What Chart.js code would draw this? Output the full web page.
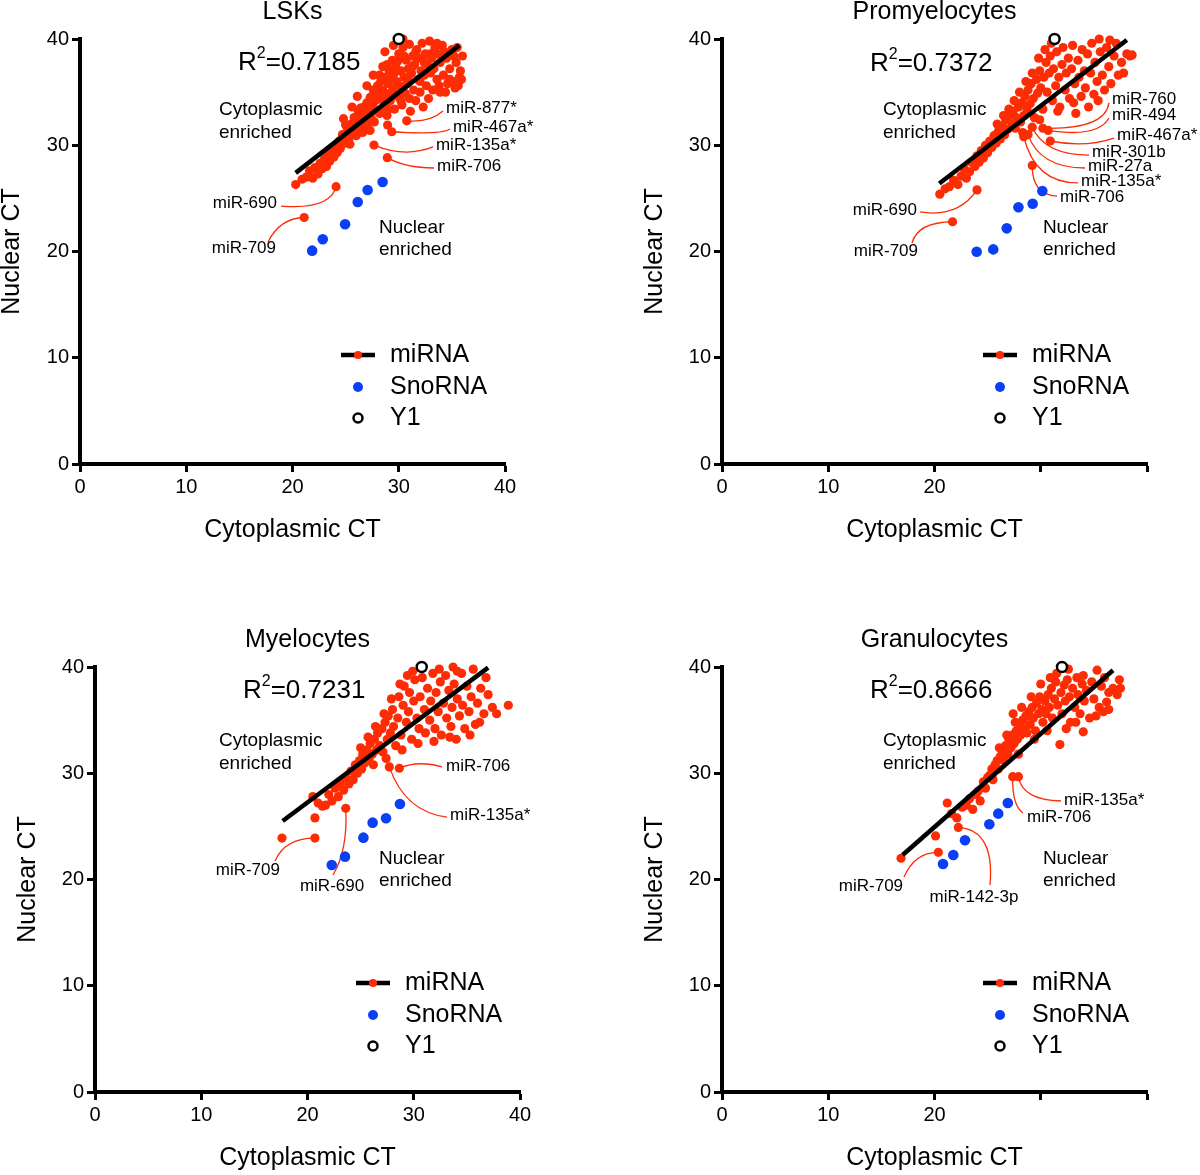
<!DOCTYPE html>
<html>
<head>
<meta charset="utf-8">
<script src="https://cdn.jsdelivr.net/npm/chart.js@4.4.1/dist/chart.umd.min.js"></script>
<style>
  body { margin: 0; background: #fff; width: 1200px; height: 1175px; position: relative; overflow: hidden; }
  canvas { position: absolute; }
</style>
</head>
<body>
<canvas id="lsk" width="600" height="587" style="left:0;top:0"></canvas>
<canvas id="prom" width="600" height="587" style="left:600px;top:0"></canvas>
<canvas id="myel" width="600" height="588" style="left:0;top:587px"></canvas>
<canvas id="gran" width="600" height="588" style="left:600px;top:587px"></canvas>
<script>
// axis ticks
const xTicks = [0, 10, 20, 30, 40];
const yTicks = [0, 10, 20, 30, 40];

// ---- LSKs ----
const lskMiRNA = [
  [20.3,26.3],[20.9,26.8],[21.3,27.0],[21.6,27.6],[21.9,26.9],[22.1,27.9],[22.4,27.3],[22.6,28.3],[22.8,27.8],[23.0,28.7],
  [23.2,28.0],[23.3,29.2],[23.5,28.5],[23.7,29.6],[23.9,28.9],[24.0,30.0],[24.2,29.3],[24.4,30.4],[24.5,29.7],[24.7,31.0],
  [24.9,30.2],[25.0,30.8],[25.2,31.5],[25.3,30.5],[25.5,32.0],[25.6,31.0],[25.8,32.6],[25.9,31.4],[26.0,30.9],[26.1,32.2],
  [26.2,33.2],[26.3,31.8],[26.5,32.8],[26.6,31.2],[26.7,33.6],[26.8,32.4],[27.0,34.0],[27.0,31.9],[27.2,33.0],[27.3,34.5],
  [27.4,32.6],[27.5,33.8],[27.6,35.2],[27.7,32.2],[27.8,34.2],[27.9,33.3],[28.0,35.6],[28.1,34.8],[28.2,33.0],[28.3,36.0],
  [28.4,34.4],[28.5,35.2],[28.6,33.6],[28.7,36.4],[28.8,34.8],[28.9,32.8],[29.0,35.8],[29.1,37.0],[29.2,34.2],[29.3,36.2],
  [29.4,38.0],[29.5,35.3],[29.6,33.4],[29.7,37.4],[29.8,36.0],[29.9,34.6],[30.0,38.6],[30.1,35.6],[30.2,37.0],[30.3,33.8],
  [30.4,39.2],[30.5,36.4],[30.6,34.9],[30.7,38.0],[30.8,35.8],[30.9,37.2],[31.0,39.5],[31.1,33.2],[31.2,36.8],[31.3,38.4],
  [31.4,35.2],[31.5,37.6],[31.6,34.2],[31.7,39.0],[31.8,36.2],[31.9,38.2],[32.0,35.0],[32.1,37.0],[32.2,39.6],[32.3,33.6],
  [32.4,36.6],[32.5,38.6],[32.6,35.6],[32.7,37.6],[32.8,34.4],[32.9,39.8],[33.0,36.8],[33.1,38.2],[33.2,35.2],[33.3,37.2],
  [33.4,39.2],[33.6,36.2],[33.7,38.6],[33.8,35.6],[33.9,37.8],[34.1,39.4],[34.2,36.6],[34.4,35.0],
  [34.5,38.2],[34.6,35.8],[34.8,37.2],[35.0,39.0],[35.1,36.0],[35.3,35.4],[35.4,37.8],[35.6,35.6],[35.8,37.0],
  [35.9,36.2],[36.0,38.4],[35.7,36.4],[25.0,31.9],[25.4,30.1],[26.4,33.5],[26.9,31.5],[27.1,33.4],
  [27.5,34.6],[27.9,35.0],[28.2,36.6],[28.6,34.0],[28.9,37.6],[29.3,35.0],[29.6,36.8],[29.9,37.9],[30.2,34.2],[30.5,38.4],
  [30.9,36.4],[31.3,37.4],[31.6,38.8],[32.0,36.0],[32.4,37.8],[33.0,38.6],[33.6,39.6],[34.3,38.8],[35.2,38.4],[35.5,39.2],
  [34.8,36.2],[33.9,35.0],[31.0,34.4],[29.0,33.4],[27.3,31.4],[24.8,32.5],[25.6,33.6],[26.1,34.6],[27.0,35.6],[27.6,36.6],
  [28.5,37.4],[28.7,38.8],[29.5,39.4],[30.4,40.0],
  [30.75,32.3],[29.34,31.27],[28.95,31.9],[27.67,30.02],[28.92,28.83],[24.1,26.1],[21.1,23.2]
];
const lskSnoRNA = [[21.85,20.08],[22.85,21.15],[24.95,22.56],[26.14,24.66],[27.07,25.79],[28.48,26.54]];
const lskY1 = [[30.0,40.0]];
const lskFit = [[20.3,27.4],[35.7,39.4]];
const lskR2 = '0.7185';

// ---- Promyelocytes ----
const promMiRNA = [
  [20.5,25.4],[21.0,25.9],[21.4,26.1],[21.8,26.7],[22.2,26.3],[22.5,27.1],[22.8,27.8],[23.0,26.9],[23.3,27.5],[23.5,28.4],
  [23.8,28.0],[24.0,29.0],[24.2,28.4],[24.4,29.5],[24.6,28.8],[24.8,30.0],[25.0,29.3],[25.2,30.4],[25.4,29.8],[25.6,30.9],
  [25.8,30.2],[26.0,31.3],[26.2,30.6],[26.4,31.8],[26.6,31.0],[26.7,32.4],[26.9,31.5],[27.1,32.8],[27.3,32.0],[27.4,33.2],
  [27.6,31.6],[27.7,32.6],[27.9,33.6],[28.1,32.2],[28.2,34.0],[28.4,32.8],[28.5,34.6],[28.7,33.4],[28.8,35.2],[29.0,33.9],
  [29.1,35.8],[29.3,34.4],[29.4,32.6],[29.6,36.2],[29.7,34.9],[29.9,37.0],[30.0,35.4],[30.2,33.4],[30.3,36.4],[30.5,37.8],
  [30.6,35.0],[30.8,36.8],[30.9,38.4],[31.1,34.2],[31.2,37.2],[31.4,35.6],[31.5,38.8],[31.7,36.4],[31.8,33.6],[32.0,37.6],
  [32.1,39.2],[32.3,35.2],[32.4,36.8],[32.6,38.2],[32.7,34.4],[32.9,37.2],[33.0,39.4],[33.2,35.8],[33.3,33.0],[33.5,38.0],
  [33.6,36.4],[33.8,34.6],[33.9,39.0],[34.1,37.0],[34.2,35.4],[34.4,38.6],[34.5,33.6],[34.7,36.8],[34.8,39.6],[35.0,34.8],
  [35.1,37.8],[35.3,36.0],[35.4,34.2],[35.6,38.8],[35.8,36.6],[36.0,35.2],[36.2,39.2],[36.4,37.4],[36.6,35.8],
  [36.9,38.4],[37.1,39.6],[37.3,36.6],[37.6,37.8],[37.8,36.8],[38.1,38.6],[38.4,38.4],[38.6,38.5],[35.5,40.0],[36.5,39.9],
  [27.0,33.4],[27.5,34.2],[28.0,35.0],[28.6,36.0],[29.2,36.8],[29.8,38.2],[30.4,39.0],[31.0,39.6],[26.5,32.8],[25.9,32.0],
  [28.3,31.2],[29.9,32.4],[31.6,33.2],[33.1,34.0],
  [30.2,31.6],[30.7,31.4],[30.9,30.4],[29.2,31.7],[28.8,31.0],[28.4,30.8],[29.2,28.1],[24.0,25.8],[21.7,22.8]
];
const promSnoRNA = [[23.97,19.98],[25.53,20.2],[26.8,22.18],[27.9,24.16],[29.24,24.5],[30.15,25.7]];
const promY1 = [[31.3,40.0]];
const promFit = [[20.45,26.4],[38.1,39.9]];
const promR2 = '0.7372';

// ---- Myelocytes ----
const myelMiRNA = [
  [20.5,27.8],[21.0,27.2],[21.4,26.9],[21.7,27.0],[22.0,28.0],[22.3,27.4],[22.6,28.6],[22.9,27.8],[23.1,29.0],[23.4,28.4],
  [23.6,29.6],[23.9,29.0],[24.1,30.2],[24.3,29.4],[24.5,30.8],[24.7,30.0],[24.9,31.2],[25.1,30.4],[25.2,31.8],[25.4,31.0],
  [25.6,32.2],[25.8,31.4],[25.9,32.8],[26.1,31.8],[26.3,33.2],[26.5,32.2],[26.6,33.8],[26.8,32.6],[27.0,34.2],[27.1,32.0],
  [27.3,34.8],[27.5,33.2],[27.6,35.4],[27.8,33.8],[28.0,36.0],[28.1,34.4],[28.3,32.6],[28.5,35.2],[28.6,37.2],[28.8,33.6],
  [29.0,36.4],[29.1,38.2],[29.3,34.8],[29.5,35.8],[29.6,37.6],[29.8,33.2],[30.0,36.8],[30.1,38.8],[30.3,35.2],[30.5,34.2],
  [30.6,37.2],[30.8,39.0],[31.0,36.0],[31.1,33.8],[31.3,38.0],[31.5,35.0],[31.6,36.8],[31.8,39.4],[32.0,34.2],[32.1,37.6],
  [32.3,35.8],[32.5,38.6],[32.6,33.6],[32.8,36.6],[33.0,39.2],[33.1,35.2],[33.3,37.8],[33.5,34.4],[33.6,36.2],[33.8,38.4],
  [34.0,33.2],[34.1,37.0],[34.3,35.4],[34.5,39.4],[34.6,36.4],[34.8,34.2],[35.0,38.2],[35.2,35.8],[35.4,37.2],[35.6,39.8],
  [35.8,34.6],[36.0,36.6],[36.3,38.0],[36.6,35.6],[37.0,37.4],[37.4,36.2],[38.9,36.4],[34.1,39.6],[32.4,39.8],[29.9,39.6],
  [25.0,32.4],[25.7,33.4],[26.4,34.4],[27.2,35.6],[27.9,37.0],[28.7,38.4],[29.4,39.2],[26.2,30.8],[27.4,31.4],[28.9,32.2],
  [30.4,32.8],[31.9,33.0],[33.4,33.4],[35.3,33.6],[36.2,34.8],[37.8,35.6],[36.8,39.0],[33.7,40.0],
  [17.6,23.9],[20.7,23.9],[20.7,25.8],[23.6,26.7],[28.64,30.47],[27.7,30.6]
];
const myelSnoRNA = [[22.28,21.36],[23.53,22.15],[25.26,23.94],[26.13,25.35],[27.39,25.76],[28.7,27.1]];
const myelY1 = [[30.75,40.0]];
const myelFit = [[17.66,25.5],[37.0,39.94]];
const myelR2 = '0.7231';

// ---- Granulocytes ----
const granMiRNA = [
  [16.85,22.0],[20.1,24.1],[21.2,27.2],[21.6,26.2],[22.1,25.8],[22.6,26.8],[23.0,27.0],[23.3,27.6],[23.6,26.6],[23.9,28.0],
  [24.1,28.3],[24.3,27.4],[24.6,29.2],[24.8,28.6],[25.0,29.6],[25.2,29.8],[25.4,30.4],[25.5,29.4],[25.7,30.8],[25.9,31.2],
  [26.0,30.4],[26.2,31.6],[26.4,32.0],[26.5,31.2],[26.7,32.6],[26.9,31.8],[27.0,33.2],[27.2,32.4],[27.3,33.6],[27.4,35.6],
  [27.5,32.8],[27.7,34.0],[27.8,33.2],[28.0,34.6],[28.1,33.6],[28.3,35.0],[28.4,34.2],[28.6,35.4],[28.7,33.8],[28.9,35.8],
  [29.0,34.6],[29.2,36.2],[29.3,35.2],[29.5,34.0],[29.6,36.6],[29.8,35.6],[29.9,37.2],[30.1,36.0],[30.2,34.8],[30.4,36.8],
  [30.5,35.6],[30.7,37.4],[30.8,36.2],[31.0,38.0],[31.1,35.2],[31.3,37.0],[31.4,38.6],[31.6,36.4],[31.8,32.7],[31.9,37.6],
  [32.0,35.6],[32.2,38.3],[32.3,36.8],[32.5,38.8],[32.7,37.2],[32.8,34.8],[33.0,38.0],[33.2,36.2],[33.4,39.0],[33.5,37.4],
  [33.7,35.6],[33.9,38.4],[34.0,39.2],[34.1,36.8],[34.0,33.9],[34.3,37.8],[34.6,35.2],[34.8,38.6],[35.0,37.0],[35.3,39.7],
  [35.5,36.2],[35.7,38.2],[35.9,35.8],[36.2,36.7],[36.4,37.6],[36.8,38.0],[37.2,37.4],[37.5,38.0],[36.0,39.0],
  [26.1,32.4],[26.8,33.6],[27.6,34.8],[28.2,36.2],[29.1,37.2],[30.0,38.4],[30.9,39.0],[31.5,39.4],[32.6,39.8],[27.9,31.8],
  [29.4,33.2],[30.6,34.0],[32.4,34.2],[33.3,34.8],[35.2,35.4],[36.4,36.0],[37.4,38.8],
  [20.36,22.56],[22.24,24.9],[27.36,29.68],[27.9,29.68]
];
const granSnoRNA = [[20.8,21.46],[21.77,22.3],[22.87,23.7],[25.16,25.2],[26.0,26.2],[26.9,27.2]];
const granY1 = [[32.0,40.0]];
const granFit = [[17.0,22.3],[36.8,39.7]];
const granR2 = '0.8666';

const RED = '#fd2c05';
const BLUE = '#0b3ff6';
const FONT = '"Liberation Sans", Arial, Helvetica, sans-serif';

const panels = [
  {
    id: 'lsk', title: 'LSKs', miRNA: lskMiRNA, snoRNA: lskSnoRNA, y1: lskY1, fit: lskFit, r2: lskR2,
    hideX: [],
    box: { padL: 0, padR: 95, padT: 0, titleGap: 14, yW: 80, xH: 123, xTitlePad: 44.5 },
    r2At: [14.87, 37.74], cytoAt: [13.08, 33.3], nucAt: [28.14, 22.2],
    labels: [
      { text: 'miR-877*', at: [34.45, 33.5], align: 'left', from: [34.16, 33.22], via: [32.9, 32.1], to: [30.75, 32.3] },
      { text: 'miR-467a*', at: [35.1, 31.72], align: 'left', from: [34.82, 31.53], via: [33.9, 30.96], to: [29.34, 31.27] },
      { text: 'miR-135a*', at: [33.5, 30.02], align: 'left', from: [33.22, 29.84], via: [30.59, 28.8], to: [27.67, 30.02] },
      { text: 'miR-706', at: [33.6, 28.05], align: 'left', from: [33.32, 27.86], via: [30.59, 27.86], to: [28.92, 28.83] },
      { text: 'miR-690', at: [18.54, 24.56], align: 'right', from: [18.92, 24.28], via: [23.53, 23.9], to: [24.1, 26.1] },
      { text: 'miR-709', at: [18.45, 20.33], align: 'right', from: [17.69, 20.89], via: [18.82, 23.15], to: [21.1, 23.2] }
    ]
  },
  {
    id: 'prom', title: 'Promyelocytes', miRNA: promMiRNA, snoRNA: promSnoRNA, y1: promY1, fit: promFit, r2: promR2,
    hideX: [30, 40],
    box: { padL: 42.5, padR: 53, padT: 0, titleGap: 14, yW: 79.5, xH: 123, xTitlePad: 44.5 },
    r2At: [13.93, 37.65], cytoAt: [15.15, 33.3], nucAt: [30.2, 22.2],
    labels: [
      { text: 'miR-760', at: [36.71, 34.35], align: 'left', from: [36.42, 33.98], via: [36.05, 31.44], to: [30.2, 31.6] },
      { text: 'miR-494', at: [36.71, 32.85], align: 'left', from: [36.42, 32.56], via: [35.39, 30.68], to: [30.7, 31.4] },
      { text: 'miR-467a*', at: [37.18, 30.96], align: 'left', from: [36.89, 30.68], via: [34.16, 29.74], to: [30.9, 30.4] },
      { text: 'miR-301b', at: [34.82, 29.36], align: 'left', from: [34.54, 29.08], via: [30.4, 29.08], to: [29.2, 31.7] },
      { text: 'miR-27a', at: [34.45, 28.05], align: 'left', from: [34.16, 27.86], via: [29.93, 27.86], to: [28.8, 31.0] },
      { text: 'miR-135a*', at: [33.79, 26.64], align: 'left', from: [33.51, 26.45], via: [29.46, 26.45], to: [28.4, 30.8] },
      { text: 'miR-706', at: [31.81, 25.13], align: 'left', from: [31.53, 25.22], via: [29.18, 25.32], to: [29.2, 28.1] },
      { text: 'miR-690', at: [18.35, 23.9], align: 'right', from: [18.64, 23.72], via: [22.21, 23.15], to: [24.0, 25.8] },
      { text: 'miR-709', at: [18.45, 20.05], align: 'right', from: [17.88, 20.8], via: [18.45, 22.78], to: [21.7, 22.8] }
    ]
  },
  {
    id: 'myel', title: 'Myelocytes', miRNA: myelMiRNA, snoRNA: myelSnoRNA, y1: myelY1, fit: myelFit, r2: myelR2,
    hideX: [],
    box: { padL: 15.5, padR: 80, padT: 40.5, titleGap: 14.5, yW: 79.5, xH: 83, xTitlePad: 4.5 },
    r2At: [13.93, 37.74], cytoAt: [11.67, 33.04], nucAt: [26.73, 21.93],
    labels: [
      { text: 'miR-709', at: [17.41, 20.89], align: 'right', from: [16.94, 21.74], via: [17.88, 23.91], to: [20.7, 23.9] },
      { text: 'miR-690', at: [22.31, 19.39], align: 'center', from: [22.4, 20.42], via: [23.81, 22.78], to: [23.6, 26.7] },
      { text: 'miR-706', at: [33.04, 30.68], align: 'left', from: [32.66, 30.59], via: [30.4, 31.25], to: [28.64, 30.47] },
      { text: 'miR-135a*', at: [33.41, 26.07], align: 'left', from: [33.13, 25.88], via: [29.18, 26.35], to: [27.7, 30.6] }
    ]
  },
  {
    id: 'gran', title: 'Granulocytes', miRNA: granMiRNA, snoRNA: granSnoRNA, y1: granY1, fit: granFit, r2: granR2,
    hideX: [30, 40],
    box: { padL: 42.5, padR: 53, padT: 40.5, titleGap: 14.5, yW: 79.5, xH: 83, xTitlePad: 4.5 },
    r2At: [13.93, 37.74], cytoAt: [15.15, 33.04], nucAt: [30.2, 21.93],
    labels: [
      { text: 'miR-709', at: [17.04, 19.39], align: 'right', from: [17.13, 20.24], via: [18.16, 22.59], to: [20.36, 22.56] },
      { text: 'miR-142-3p', at: [23.72, 18.35], align: 'center', from: [25.22, 19.48], via: [25.69, 24.66], to: [22.24, 24.9] },
      { text: 'miR-706', at: [28.71, 25.88], align: 'left', from: [28.33, 26.26], via: [27.29, 27.01], to: [27.36, 29.68] },
      { text: 'miR-135a*', at: [32.19, 27.48], align: 'left', from: [31.91, 27.39], via: [28.24, 27.48], to: [27.9, 29.68] }
    ]
  }
];

const toXY = arr => arr.map(p => ({ x: p[0], y: p[1] }));

function annotator(p) {
  return {
    id: 'annot_' + p.id,
    beforeDatasetsDraw(chart) {
      const { ctx, scales: { x, y } } = chart;
      ctx.save();
      ctx.strokeStyle = RED;
      ctx.lineWidth = 1.3;
      p.labels.forEach(l => {
        ctx.beginPath();
        ctx.moveTo(x.getPixelForValue(l.from[0]), y.getPixelForValue(l.from[1]));
        ctx.quadraticCurveTo(x.getPixelForValue(l.via[0]), y.getPixelForValue(l.via[1]),
                             x.getPixelForValue(l.to[0]), y.getPixelForValue(l.to[1]));
        ctx.stroke();
      });
      ctx.restore();
    },
    afterDraw(chart) {
      const { ctx, chartArea, scales: { x, y } } = chart;
      ctx.save();
      ctx.fillStyle = '#000';
      ctx.textBaseline = 'middle';

      // point labels
      ctx.font = '17px ' + FONT;
      p.labels.forEach(l => {
        ctx.textAlign = l.align;
        ctx.fillText(l.text, x.getPixelForValue(l.at[0]), y.getPixelForValue(l.at[1]));
      });

      // region notes
      ctx.textAlign = 'left';
      ctx.font = '19px ' + FONT;
      const cx = x.getPixelForValue(p.cytoAt[0]), cy = y.getPixelForValue(p.cytoAt[1]);
      ctx.fillText('Cytoplasmic', cx, cy);
      ctx.fillText('enriched', cx, cy + 23);
      const nx = x.getPixelForValue(p.nucAt[0]), ny = y.getPixelForValue(p.nucAt[1]);
      ctx.fillText('Nuclear', nx, ny);
      ctx.fillText('enriched', nx, ny + 22);

      // R squared
      let rx = x.getPixelForValue(p.r2At[0]);
      const ry = y.getPixelForValue(p.r2At[1]);
      ctx.font = '26px ' + FONT;
      ctx.fillText('R', rx, ry);
      rx += ctx.measureText('R').width;
      ctx.font = '16px ' + FONT;
      ctx.fillText('2', rx, ry - 9);
      rx += ctx.measureText('2').width;
      ctx.font = '26px ' + FONT;
      ctx.fillText('=' + p.r2, rx, ry);

      // legend
      const lx = chartArea.left + 278;
      const rows = [chartArea.top + 316, chartArea.top + 348, chartArea.top + 379];
      ctx.strokeStyle = '#000';
      ctx.lineWidth = 4.5;
      ctx.beginPath();
      ctx.moveTo(lx - 17, rows[0]);
      ctx.lineTo(lx + 17, rows[0]);
      ctx.stroke();
      ctx.fillStyle = RED;
      ctx.beginPath(); ctx.arc(lx, rows[0], 4, 0, Math.PI * 2); ctx.fill();
      ctx.fillStyle = BLUE;
      ctx.beginPath(); ctx.arc(lx, rows[1], 5, 0, Math.PI * 2); ctx.fill();
      ctx.fillStyle = '#fff';
      ctx.lineWidth = 2.5;
      ctx.beginPath(); ctx.arc(lx, rows[2], 4.5, 0, Math.PI * 2); ctx.fill(); ctx.stroke();
      ctx.fillStyle = '#000';
      ctx.font = '25px ' + FONT;
      ctx.fillText('miRNA', lx + 32, rows[0]);
      ctx.fillText('SnoRNA', lx + 32, rows[1]);
      ctx.fillText('Y1', lx + 32, rows[2]);
      ctx.restore();
    }
  };
}

function axisCommon(ticks) {
  return {
    type: 'linear',
    min: 0,
    max: 40,
    afterBuildTicks: s => { s.ticks = ticks.map(v => ({ value: v })); },
    grid: { drawOnChartArea: false, drawTicks: true, tickLength: 8, tickWidth: 3, tickColor: '#000' },
    border: { display: true, color: '#000', width: 4 }
  };
}

function buildChart(p) {
  const b = p.box;
  new Chart(document.getElementById(p.id), {
    type: 'scatter',
    data: {
      datasets: [
        { type: 'line', data: toXY(p.fit), borderColor: '#000', borderWidth: 4.5, pointRadius: 0, fill: false, order: 0, clip: false },
        { data: toXY(p.miRNA), backgroundColor: RED, borderWidth: 0, pointRadius: 4.6, order: 3, clip: false },
        { data: toXY(p.snoRNA), backgroundColor: BLUE, borderWidth: 0, pointRadius: 5.3, order: 2, clip: false },
        { data: toXY(p.y1), backgroundColor: '#fff', borderColor: '#000', borderWidth: 2.5, pointRadius: 5, order: 1, clip: false }
      ]
    },
    options: {
      responsive: false,
      animation: false,
      devicePixelRatio: 1,
      layout: { padding: { left: b.padL, right: b.padR, top: b.padT, bottom: 0 } },
      plugins: {
        legend: { display: false },
        tooltip: { enabled: false },
        title: {
          display: true, text: p.title, color: '#000', fullSize: false,
          font: { size: 25, family: FONT, weight: 'normal', lineHeight: 1 },
          padding: { top: 0, bottom: b.titleGap }
        }
      },
      scales: {
        x: Object.assign(axisCommon(xTicks), {
          afterFit: s => { s.height = b.xH; },
          ticks: {
            font: { size: 20, family: FONT }, color: '#000', padding: 3, maxRotation: 0,
            callback: v => (p.hideX.includes(v) ? '' : v)
          },
          title: {
            display: true, text: 'Cytoplasmic CT', color: '#000',
            font: { size: 25, family: FONT, lineHeight: 1 }, padding: { top: 0, bottom: b.xTitlePad }
          }
        }),
        y: Object.assign(axisCommon(yTicks), {
          afterFit: s => { s.width = b.yW; },
          ticks: { font: { size: 20, family: FONT }, color: '#000', padding: 3 },
          title: {
            display: true, text: 'Nuclear CT', color: '#000',
            font: { size: 25, family: FONT, lineHeight: 1 }, padding: { top: 0, bottom: 0 }
          }
        })
      }
    },
    plugins: [annotator(p)]
  });
}

panels.forEach(buildChart);
</script>
</body>
</html>
